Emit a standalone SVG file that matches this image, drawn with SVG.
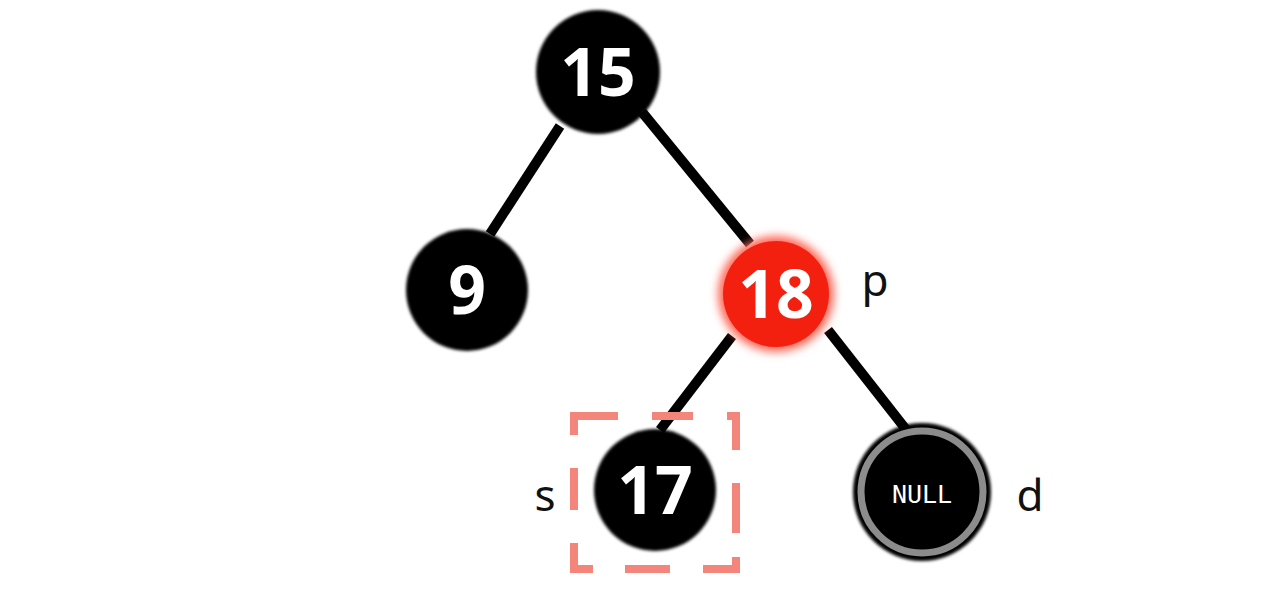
<svg xmlns="http://www.w3.org/2000/svg" width="1269" height="610" viewBox="0 0 1269 610">
<defs>
<filter id="soft" x="-20%" y="-20%" width="140%" height="140%"><feGaussianBlur stdDeviation="1.5"/></filter>
<filter id="glow" x="-30%" y="-30%" width="160%" height="160%"><feGaussianBlur stdDeviation="4"/></filter>
</defs>
<style>
.edge{stroke:#000;stroke-width:10;stroke-linecap:butt;fill:none}
.num{font-family:"Open Sans","Liberation Sans",sans-serif;font-weight:bold;font-size:66px;fill:#fff;text-anchor:middle}
.lbl{font-family:"Noto Sans","Liberation Sans",sans-serif;font-size:44px;fill:#111;text-anchor:middle}
.dash{fill:none;stroke:#f3857a;stroke-width:8;stroke-linecap:butt;stroke-linejoin:miter}
</style>
<rect width="1269" height="610" fill="#fff"/>
<g id="connectors">
<line class="edge" x1="560" y1="126" x2="490" y2="234"/>
<line class="edge" x1="642" y1="112" x2="750" y2="244"/>
<line class="edge" x1="732" y1="336" x2="660" y2="430"/>
<line class="edge" x1="828" y1="330" x2="908" y2="432"/>
</g>
<g id="n15">
<circle cx="598" cy="72" r="62" fill="#000" filter="url(#soft)"/>
<text class="num" x="598" y="96">15</text>
</g>
<g id="n9">
<circle cx="467" cy="290" r="61" fill="#000" filter="url(#soft)"/>
<text class="num" x="467" y="314">9</text>
</g>
<g id="n18">
<circle cx="776" cy="294" r="58" fill="#ff6a5a" filter="url(#glow)"/>
<circle cx="776" cy="294" r="53" fill="#f4200f"/>
<text class="num" x="776" y="318">18</text>
<text class="lbl" x="875" y="296">p</text>
</g>
<g id="n17">
<path class="dash" d="M574 435V416H618 M652 416H693 M727 416H736V450 M736 483V533 M736 557V569H703 M670 569H625 M593 569H574V543 M574 510V468"/>
<circle cx="655" cy="490" r="61" fill="#000" filter="url(#soft)"/>
<text class="num" x="655" y="514">17</text>
<text class="lbl" x="545" y="511">s</text>
</g>
<g id="nnull">
<circle cx="922" cy="492" r="69" fill="#000" filter="url(#soft)"/>
<circle cx="922" cy="492" r="61" fill="none" stroke="#8c8c8c" stroke-width="7"/>
<text x="922" y="503" font-family="DejaVu Sans Mono, Liberation Mono, monospace" font-size="25" fill="#fff" text-anchor="middle">NULL</text>
<text class="lbl" x="1030" y="511">d</text>
</g>
</svg>
